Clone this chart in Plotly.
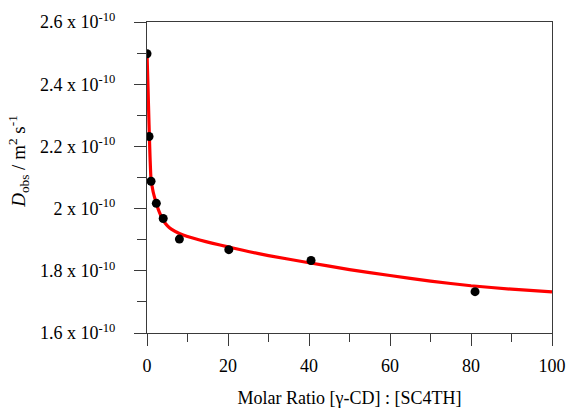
import plotly.graph_objects as go

# Measured data points
ratio = [0, 0.5, 1, 2.3, 4, 8, 20.2, 40.5, 81]
d_obs = [2.498e-10, 2.232e-10, 2.088e-10, 2.017e-10, 1.968e-10, 1.902e-10, 1.868e-10, 1.833e-10, 1.733e-10]

# Fitted curve
fit_x = [0, 0.25, 0.5, 0.75, 1, 1.5, 2, 2.5, 3, 4, 5, 6, 8, 10, 13, 16, 20, 25, 30, 40, 50, 60, 70, 80, 90, 100]
fit_y = [2.50e-10, 2.39e-10, 2.27e-10, 2.165e-10, 2.095e-10, 2.055e-10, 2.03e-10, 2.008e-10, 1.99e-10, 1.962e-10,
         1.945e-10, 1.934e-10, 1.920e-10, 1.910e-10, 1.899e-10, 1.889e-10, 1.877e-10, 1.862e-10, 1.849e-10,
         1.826e-10, 1.804e-10, 1.785e-10, 1.767e-10, 1.752e-10, 1.741e-10, 1.732e-10]

y_ticks = [1.6e-10, 1.8e-10, 2.0e-10, 2.2e-10, 2.4e-10, 2.6e-10]
y_ticktext = ["1.6 x 10<sup>-10</sup>", "1.8 x 10<sup>-10</sup>", "2 x 10<sup>-10</sup>",
              "2.2 x 10<sup>-10</sup>", "2.4 x 10<sup>-10</sup>", "2.6 x 10<sup>-10</sup>"]
y_minor = [1.7e-10, 1.9e-10, 2.1e-10, 2.3e-10, 2.5e-10]

FONT = "Liberation Serif, Times New Roman, serif"
AX = "#3a3a3a"
FS = 18

fig = go.Figure()
fig.add_trace(go.Scatter(x=fit_x, y=fit_y, mode="lines",
                         line=dict(color="#ff0000", width=3.2, shape="spline", smoothing=0.6),
                         showlegend=False, hoverinfo="skip"))
fig.add_trace(go.Scatter(x=ratio, y=d_obs, mode="markers",
                         marker=dict(color="black", size=9),
                         showlegend=False))

fig.update_layout(
    width=567, height=409,
    margin=dict(l=147, r=15, t=22, b=76, autoexpand=False),
    paper_bgcolor="white", plot_bgcolor="white",
    font=dict(family=FONT, size=FS, color="black"),
    xaxis=dict(range=[0, 100], tickvals=[0, 20, 40, 60, 80, 100], automargin=False,
               showline=True, linecolor=AX, linewidth=1, mirror=True,
               ticks="outside", ticklen=12, tickcolor=AX, tickwidth=1,
               ticklabelstandoff=4,
               minor=dict(tickvals=[10, 30, 50, 70, 90], ticks="outside", ticklen=8, tickcolor=AX, tickwidth=1),
               showgrid=False, zeroline=False,
               tickfont=dict(family=FONT, size=FS, color="black"),
               title=dict(text="Molar Ratio [γ-CD] : [SC4TH]", standoff=16,
                          font=dict(family=FONT, size=FS, color="black"))),
    yaxis=dict(range=[1.6e-10, 2.6e-10], tickvals=y_ticks, ticktext=y_ticktext, automargin=False,
               showline=True, linecolor=AX, linewidth=1, mirror=True,
               ticks="outside", ticklen=12, tickcolor=AX, tickwidth=1,
               ticklabelstandoff=15,
               minor=dict(tickvals=y_minor, ticks="outside", ticklen=9, tickcolor=AX, tickwidth=1),
               showgrid=False, zeroline=False,
               tickfont=dict(family=FONT, size=FS, color="black")),
    annotations=[dict(text="<i>D</i><sub>obs</sub> / m<sup>2</sup> s<sup>-1</sup>",
                      xref="paper", yref="paper", x=-0.318, y=0.551,
                      xanchor="center", yanchor="middle", textangle=-90, showarrow=False,
                      font=dict(family=FONT, size=19, color="black"))],
)

# remove the default 8px page margin so the figure fills the window exactly
fig.write_html("out.html",
               config={"displayModeBar": False},
               post_script="document.body.style.margin='0';document.body.style.overflow='hidden';")
